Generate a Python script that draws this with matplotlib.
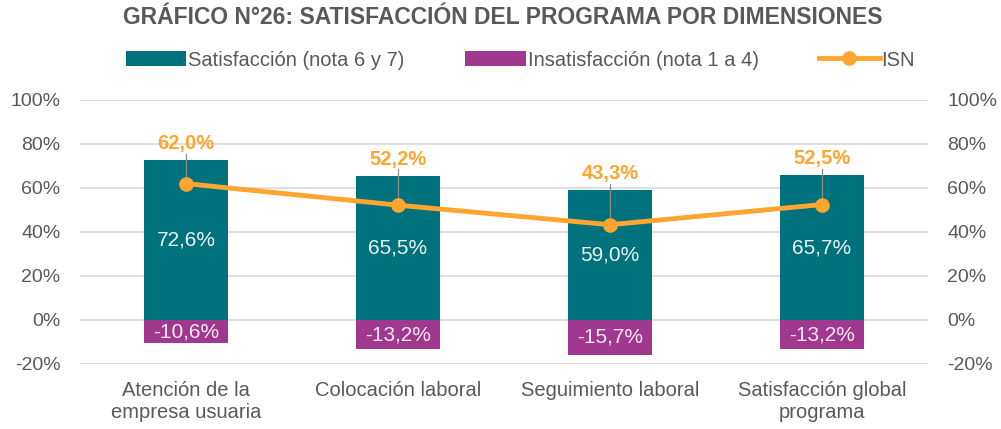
import matplotlib.pyplot as plt
import numpy as np

# ===== datos ===== #
categorias = ['Atención de la\nempresa usuaria', 'Colocación laboral',
              'Seguimiento laboral', 'Satisfacción global\nprograma']
satisfaccion = [72.6, 65.5, 59.0, 65.7]
insatisfaccion = [-10.6, -13.2, -15.7, -13.2]
isn = [62.0, 52.2, 43.3, 52.5]
ticks_y = [-20, 0, 20, 40, 60, 80, 100]

# ===== estilo ===== #
plt.rcParams['font.family'] = ['Liberation Sans', 'DejaVu Sans']
gris = '#595959'
verde = '#00727E'
morado = '#A0388F'
naranja = '#FFA530'

fig = plt.figure(figsize=(10.01, 4.29), dpi=100)
ax = fig.add_axes([80 / 1001, 1 - 364 / 429, 848 / 1001, 264 / 429])

x = np.arange(len(categorias))
b1 = ax.bar(x, satisfaccion, width=0.4, color=verde, zorder=2, label='Satisfacción (nota 6 y 7)')
b2 = ax.bar(x, insatisfaccion, width=0.4, color=morado, zorder=2, label='Insatisfacción (nota 1 a 4)')
l1, = ax.plot(x, isn, color=naranja, lw=3.5, marker='o', ms=9.5, zorder=4, label='ISN')

# etiquetas de barras
for i in range(len(x)):
    ax.text(x[i], satisfaccion[i] / 2, f'{satisfaccion[i]:.1f}%'.replace('.', ','),
            ha='center', va='center', color='#E8F4F4', fontsize=15, zorder=5)
    ax.text(x[i], insatisfaccion[i] / 2, f'{insatisfaccion[i]:.1f}%'.replace('.', ','),
            ha='center', va='center', color='#F4E8F2', fontsize=15, zorder=5)
    # linea guia + etiqueta ISN
    ax.plot([x[i], x[i]], [isn[i], satisfaccion[i] + 3], color='#8C8C8C', lw=0.9, zorder=3)
    ax.text(x[i], satisfaccion[i] + 3.3, f'{isn[i]:.1f}%'.replace('.', ','),
            ha='center', va='bottom', color=naranja, fontsize=14.5, fontweight='bold', zorder=5)

ax.set_xlim(-0.5, len(x) - 0.5)
ax.set_ylim(-20, 100)
ax.set_yticks(ticks_y)
ax.set_yticklabels([f'{t}%' for t in ticks_y])
ax.set_xticks(x)
ax.set_xticklabels(categorias, linespacing=1.25)
ax.grid(axis='y', color='#D9D9D9', lw=1.2, zorder=0)
ax.tick_params(length=0, labelsize=14, labelcolor=gris)
ax.tick_params(axis='x', labelsize=14.5, pad=12)
ax.tick_params(axis='y', pad=14)
for s in ax.spines.values():
    s.set_visible(False)

ax2 = ax.twinx()
ax2.set_ylim(-20, 100)
ax2.set_yticks(ticks_y)
ax2.set_yticklabels([f'{t}%' for t in ticks_y])
ax2.tick_params(length=0, labelsize=14, labelcolor=gris, pad=14)
for s in ax2.spines.values():
    s.set_visible(False)

fig.text(0.502, 1 - 18 / 429, 'GRÁFICO N°26: SATISFACCIÓN DEL PROGRAMA POR DIMENSIONES',
         ha='center', va='center', fontsize=16.5, fontweight='bold', color=gris)

fig.legend(handles=[b1, b2, l1], loc='center', bbox_to_anchor=(0.52, 1 - 60 / 429), ncol=3,
           frameon=False, fontsize=14.5, labelcolor=gris, handlelength=3.0, handleheight=0.8,
           handletextpad=0.1, columnspacing=3.0)

fig.savefig('out.png', dpi=100)
